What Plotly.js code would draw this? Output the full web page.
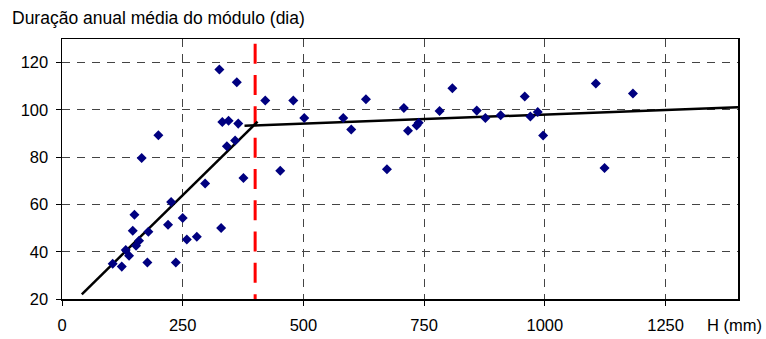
<!DOCTYPE html>
<html>
<head>
<meta charset="utf-8">
<script src="https://cdn.plot.ly/plotly-3.0.1.min.js"></script>
<style>html,body{margin:0;padding:0;background:#fff;}#chart{width:766px;height:339px;}</style>
</head>
<body>
<div id="chart"></div>
<script>
// Observed points: H (mm) vs mean annual duration (days)
const obsH = [105, 123.8, 132, 138.9, 153.4, 159.6, 146.5, 150, 165, 176.8, 178.9, 199.6, 219.6, 226, 235.7, 250, 258.5, 279.2, 296.4, 326, 329.6, 332, 341.5, 345, 358.6, 362, 365, 375.8, 421, 452, 479, 501.7, 582.5, 599, 629.5, 673, 708, 716.6, 734.4, 738.7, 782, 808.5, 859, 876.8, 908.6, 958.4, 970, 985.3, 996.4, 1105.6, 1123.6, 1182.4];
const obsDur = [34.9, 33.7, 40.7, 38.3, 42.5, 44.6, 48.9, 55.6, 79.7, 35.4, 48.5, 89.3, 51.4, 61, 35.4, 54.3, 45.2, 46.3, 68.9, 117.1, 50, 94.9, 84.6, 95.4, 87.1, 111.7, 94.2, 71.2, 104, 74.3, 104, 96.6, 96.6, 91.7, 104.5, 74.9, 100.8, 91.2, 93.4, 94.6, 99.5, 109.2, 99.7, 96.6, 97.7, 105.7, 97.2, 99.1, 89.2, 111.2, 75.4, 106.9];

// Fitted segments
const fit1H = [41, 405];
const fit1Dur = [22, 95];
const fit2H = [378, 1400];
const fit2Dur = [93.3, 101.1];

// Threshold line
const threshH = [400, 400];
const threshDur = [128, 20];

const xTicks = [0, 250, 500, 750, 1000, 1250];
const yTicks = [20, 40, 60, 80, 100, 120];

const FONT = "Liberation Sans, Arial, sans-serif";

const traces = [
  {x: threshH, y: threshDur, mode: 'lines', line: {color: '#ff0000', width: 3, dash: '20px,11.3px'}, hoverinfo: 'skip'},
  {x: fit1H, y: fit1Dur, mode: 'lines', line: {color: '#000000', width: 2.5}},
  {x: fit2H, y: fit2Dur, mode: 'lines', line: {color: '#000000', width: 2.5}},
  {x: obsH, y: obsDur, mode: 'markers', marker: {symbol: 'diamond', size: 7.7, color: '#000080'}, cliponaxis: false}
];

const layout = {
  width: 766, height: 339,
  margin: {l: 62, r: 28, t: 39, b: 40},
  paper_bgcolor: '#ffffff', plot_bgcolor: '#ffffff',
  showlegend: false,
  font: {family: FONT, size: 16.5, color: '#000'},
  title: {text: 'Duração anual média do módulo (dia)', font: {family: FONT, size: 17.5, color: '#000'},
          xref: 'container', yref: 'container', x: 12/766, xanchor: 'left', y: 1 - 18/339, yanchor: 'middle'},
  xaxis: {
    range: [0, 1400], tickvals: xTicks, ticktext: xTicks.map(String),
    showline: true, linecolor: '#000', linewidth: 1.5, mirror: true,
    ticks: 'outside', ticklen: 5, tickcolor: '#000', tickwidth: 1,
    showgrid: true, gridcolor: '#444', gridwidth: 1, griddash: '8px,7px',
    zeroline: false, ticklabelstandoff: 6,
    tickfont: {family: FONT, size: 16.5, color: '#000'}
  },
  yaxis: {
    range: [20, 130], tickvals: yTicks, ticktext: yTicks.map(String),
    showline: true, linecolor: '#000', linewidth: 1.5, mirror: true,
    ticks: 'outside', ticklen: 5, tickcolor: '#000', tickwidth: 1,
    showgrid: true, gridcolor: '#444', gridwidth: 1, griddash: '8px,7px',
    zeroline: false, ticklabelstandoff: 4,
    tickfont: {family: FONT, size: 16.5, color: '#000'}
  },
  annotations: [
    {text: 'H (mm)', xref: 'paper', yref: 'paper', x: (705 - 62) / 676, y: (299 - 325) / 260,
     xanchor: 'left', yanchor: 'middle', showarrow: false, font: {family: FONT, size: 16.5, color: '#000'}}
  ]
};

Plotly.newPlot('chart', traces, layout, {displayModeBar: false, staticPlot: true});
</script>
</body>
</html>
